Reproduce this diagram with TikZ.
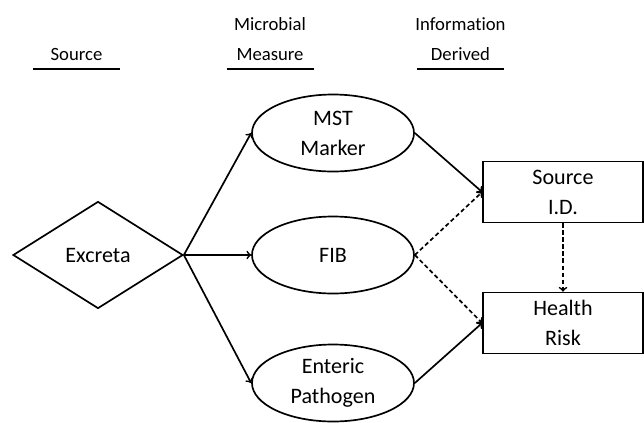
\documentclass[tikz,border=0pt]{standalone}
\usepackage{fontspec}
\setmainfont{Carlito}[Ligatures=CommonOff]
\usetikzlibrary{positioning,shapes,arrows}

\begin{document}
\begin{tikzpicture}[font=\fontsize{13.3}{21.3}\selectfont]
    \tikzstyle{sourcenode} = [diamond, draw=black, line width=1.2pt, minimum width=4.25cm, minimum height=2.675cm, inner sep=0pt, text centered, font=\fontsize{15.7}{21.3}\selectfont]
    \tikzstyle{measure} = [ellipse, draw=black, line width=1.2pt, minimum width=4.05cm, minimum height=1.925cm, inner sep=0pt, align=center, font=\fontsize{15.7}{21.3}\selectfont]
    \tikzstyle{infobox} = [rectangle, draw=black, line width=1.2pt, minimum width=4cm, minimum height=1.525cm, align=center, font=\fontsize{15.7}{21.3}\selectfont]
    \tikzstyle{header} = [anchor=south, inner sep=0pt, align=center]
    \tikzstyle{headline} = [line width=1.5pt]
    \tikzstyle{arrow} = [line width=1.2pt,->,>=to]
    \tikzstyle{dasharrow} = [arrow, dash pattern=on 3pt off 2pt]

    \useasboundingbox (-2.45,6.375) rectangle (13.65,-4.175);

    % Nodes
    \node (excreta) [sourcenode] {Excreta};
    \node (fib) [measure, node distance=5.875cm, right of=excreta] {FIB};
    \node (mst) [measure, node distance=3.05cm, above of=fib] {MST\\Marker};
    \node (enteric) [measure, node distance=3.2cm, below of=fib] {Enteric\\Pathogen};

    % Information derived
    \node (srcid) [infobox, node distance=5.75cm, right of=fib, yshift=1.575cm] {Source\\I.D.};
    \node (risk) [infobox, node distance=5.75cm, right of=fib, yshift=-1.7cm] {Health\\Risk};

    % Column headers
    \node (hsrc) [header] at (-0.5375,4.85) {Source};
    \node (hmeas) [header] at (4.3,4.85) {Microbial\\Measure};
    \node (hinfo) [header] at (9.0625,4.85) {Information\\Derived};
    \foreach \h in {hsrc,hmeas,hinfo}
        \draw [headline] ([xshift=-1.0875cm,yshift=-0.2cm]\h.south) -- ++(2.175,0);

    % Arrows
    \draw [arrow] (excreta.east) -- (mst.west);
    \draw [arrow] (excreta.east) -- (fib.west);
    \draw [arrow] (excreta.east) -- (enteric.west);
    \draw [arrow] (mst.east) -- (srcid.west);
    \draw [arrow] (enteric.east) -- (risk.west);
    \draw [dasharrow] (fib.east) -- (srcid.west);
    \draw [dasharrow] (fib.east) -- (risk.west);
    \draw [dasharrow] (srcid.south) -- (risk.north);
\end{tikzpicture}
\end{document}
